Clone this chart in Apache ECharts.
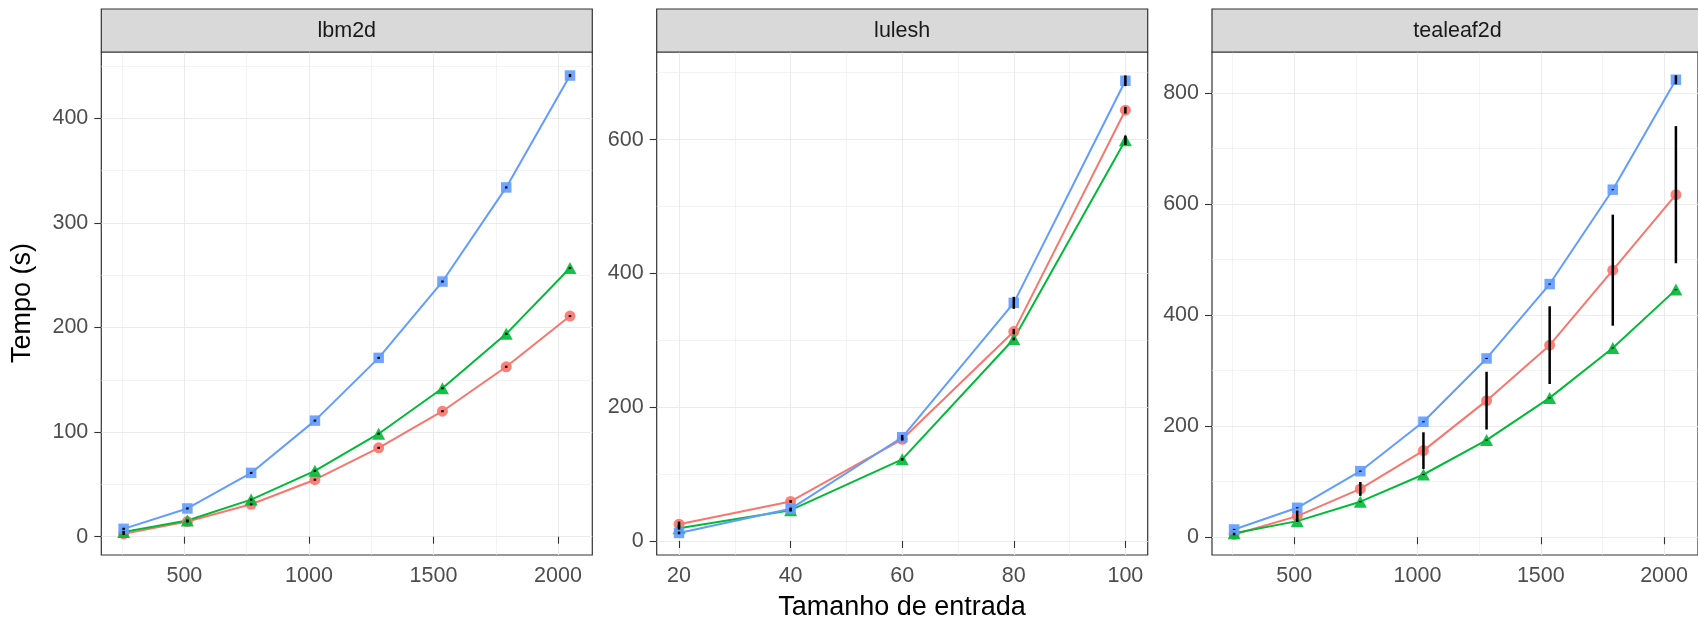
<!DOCTYPE html>
<html><head><meta charset="utf-8">
<script src="https://cdn.jsdelivr.net/npm/echarts@6/dist/echarts.min.js"></script>
<style>html,body{margin:0;padding:0;background:#fff}#c{width:1698px;height:620px}</style>
</head><body><div id="c"></div>
<script>
// ---------- data ----------
const panelNames = ['lbm2d', 'lulesh', 'tealeaf2d'];
const xTitle = 'Tamanho de entrada';
const yTitle = 'Tempo (s)';

const lbmX = [256, 512, 768, 1024, 1280, 1536, 1792, 2048];
const lbmRed = [2.7, 14.5, 31, 54.5, 85, 120, 162.5, 211];
const lbmGreen = [4.5, 15.5, 35.5, 63, 98.5, 142, 194, 257];
const lbmBlue = [7.5, 27, 61, 111, 171, 244, 334, 441];
const lbmRedSd = [1, 1, 1, 1, 1, 1, 1, 1];
const lbmGreenSd = [1, 1, 1, 1, 1, 1, 1, 1];
const lbmBlueSd = [1, 1, 1, 1, 1, 1, 1, 1.5];

const luleshX = [20, 40, 60, 80, 100];
const luleshRed = [25, 59, 152, 313, 644];
const luleshGreen = [19, 46, 122, 302, 599];
const luleshBlue = [12, 48, 155, 356, 688];
const luleshRedSd = [4, 2, 2, 4, 5];
const luleshGreenSd = [2, 2, 2, 2, 7];
const luleshBlueSd = [2, 2, 3.5, 9, 8];

const teaX = [256, 512, 768, 1024, 1280, 1536, 1792, 2048];
const teaRed = [5, 38, 87, 156, 246, 346, 481, 617];
const teaGreen = [7, 29, 64, 113, 175, 251, 341, 446];
const teaBlue = [14, 53, 119, 208, 322, 456, 626, 824];
const teaRedSd = [1.5, 10, 12.5, 33, 52, 70, 100, 123.5];
const teaGreenSd = [1, 1, 1, 1, 1, 1, 1, 1];
const teaBlueSd = [1, 1, 1, 1, 1, 1, 1, 8];

const xTicksSize = [500, 1000, 1500, 2000];
const xMinorSize = [250, 750, 1250, 1750];
const xTicksLulesh = [20, 40, 60, 80, 100];
const xMinorLulesh = [30, 50, 70, 90];
const yTicksLbm = [0, 100, 200, 300, 400];
const yMinorLbm = [50, 150, 250, 350, 450];
const yTicksLulesh = [0, 200, 400, 600];
const yMinorLulesh = [100, 300, 500, 700];
const yTicksTea = [0, 200, 400, 600, 800];
const yMinorTea = [100, 300, 500, 700];

// ---------- layout / style ----------
const FONT = "'Liberation Sans', Arial, Helvetica, sans-serif";
const COLORS = {red: '#F8766D', green: '#00BA38', blue: '#619CFF'};
const panelLeft = [101.3, 656.7, 1212];
const panelW = 491, panelTop = 52, panelH = 503, stripTop = 9, stripH = 43;

const panels = [
  {x: lbmX, xr: [166.4, 2137.6], yr: [-17.5, 463.5], xt: xTicksSize, xm: xMinorSize, yt: yTicksLbm, ym: yMinorLbm,
   s: [[lbmRed, lbmRedSd, 'red', 'circle'], [lbmGreen, lbmGreenSd, 'green', 'triangle'], [lbmBlue, lbmBlueSd, 'blue', 'rect']]},
  {x: luleshX, xr: [16, 104], yr: [-21, 731], xt: xTicksLulesh, xm: xMinorLulesh, yt: yTicksLulesh, ym: yMinorLulesh,
   s: [[luleshRed, luleshRedSd, 'red', 'circle'], [luleshGreen, luleshGreenSd, 'green', 'triangle'], [luleshBlue, luleshBlueSd, 'blue', 'rect']]},
  {x: teaX, xr: [166.4, 2137.6], yr: [-32, 874], xt: xTicksSize, xm: xMinorSize, yt: yTicksTea, ym: yMinorTea,
   s: [[teaRed, teaRedSd, 'red', 'circle'], [teaGreen, teaGreenSd, 'green', 'triangle'], [teaBlue, teaBlueSd, 'blue', 'rect']]}
];

const grids = [], xAxes = [], yAxes = [], series = [], graphics = [];
const symSize = {circle: 11, triangle: [13, 12], rect: 10.5};
const plain = v => String(v);

panels.forEach((p, g) => {
  grids.push({left: panelLeft[g], top: panelTop, width: panelW, height: panelH,
    show: true, borderColor: '#333333', borderWidth: 1.2, backgroundColor: '#ffffff'});
  const labelStyle = {fontSize: 21.5, color: '#4D4D4D', fontFamily: FONT, formatter: plain};
  xAxes.push({type: 'value', gridIndex: g, min: p.xr[0], max: p.xr[1], position: 'bottom',
    axisLine: {show: false},
    axisTick: {show: true, customValues: p.xt, length: 7, lineStyle: {color: '#333333', width: 1.1}},
    axisLabel: Object.assign({customValues: p.xt, margin: 10}, labelStyle),
    splitLine: {show: true, lineStyle: {color: '#EBEBEB', width: 1.1}}});
  xAxes.push({type: 'value', gridIndex: g, min: p.xr[0], max: p.xr[1], position: 'bottom',
    axisLine: {show: false}, axisLabel: {show: false},
    axisTick: {show: false, customValues: p.xm},
    splitLine: {show: true, lineStyle: {color: '#EBEBEB', width: 0.6}}});
  yAxes.push({type: 'value', gridIndex: g, min: p.yr[0], max: p.yr[1], position: 'left',
    axisLine: {show: false},
    axisTick: {show: true, customValues: p.yt, length: 7, lineStyle: {color: '#333333', width: 1.1}},
    axisLabel: Object.assign({customValues: p.yt, margin: 13}, labelStyle),
    splitLine: {show: true, lineStyle: {color: '#EBEBEB', width: 1.1}}});
  yAxes.push({type: 'value', gridIndex: g, min: p.yr[0], max: p.yr[1], position: 'left',
    axisLine: {show: false}, axisLabel: {show: false},
    axisTick: {show: false, customValues: p.ym},
    splitLine: {show: true, lineStyle: {color: '#EBEBEB', width: 0.6}}});

  const errData = [];
  p.s.forEach(([vals, sds, col, sym]) => {
    series.push({type: 'line', xAxisIndex: 2 * g, yAxisIndex: 2 * g,
      data: p.x.map((xv, i) => [xv, vals[i]]),
      symbol: sym, symbolSize: symSize[sym], showSymbol: true,
      lineStyle: {color: COLORS[col], width: 2},
      itemStyle: {color: COLORS[col], opacity: 0.9, borderWidth: 0},
      silent: true, z: 3});
    p.x.forEach((xv, i) => errData.push([xv, vals[i] - sds[i], vals[i] + sds[i]]));
  });
  series.push({type: 'custom', xAxisIndex: 2 * g, yAxisIndex: 2 * g, z: 5, silent: true,
    data: errData, encode: {x: 0, y: [1, 2]},
    renderItem: (params, api) => {
      const a = api.coord([api.value(0), api.value(1)]);
      const b = api.coord([api.value(0), api.value(2)]);
      return {type: 'line', shape: {x1: a[0], y1: a[1], x2: b[0], y2: b[1]},
        style: {stroke: '#000000', lineWidth: 2.5}};
    }});

  graphics.push({type: 'rect', shape: {x: panelLeft[g], y: stripTop, width: panelW, height: stripH},
    style: {fill: '#D9D9D9', stroke: '#333333', lineWidth: 1.2}, z: 10});
  graphics.push({type: 'text', x: panelLeft[g] + panelW / 2, y: stripTop + stripH / 2 + 1,
    style: {text: panelNames[g], fontSize: 21.5, fill: '#1A1A1A', fontFamily: FONT,
      align: 'center', verticalAlign: 'middle'}, z: 11});
});

graphics.push({type: 'text', x: 902, y: 608,
  style: {text: xTitle, fontSize: 27, fill: '#000000', fontFamily: FONT, align: 'center', verticalAlign: 'middle'}});
graphics.push({type: 'text', x: 23, y: 303, rotation: Math.PI / 2,
  style: {text: yTitle, fontSize: 27, fill: '#000000', fontFamily: FONT, align: 'center', verticalAlign: 'middle'}});

const chart = echarts.init(document.getElementById('c'), null, {renderer: 'canvas'});
chart.setOption({
  animation: false,
  backgroundColor: '#ffffff',
  grid: grids, xAxis: xAxes, yAxis: yAxes, series: series, graphic: graphics
});
</script></body></html>
